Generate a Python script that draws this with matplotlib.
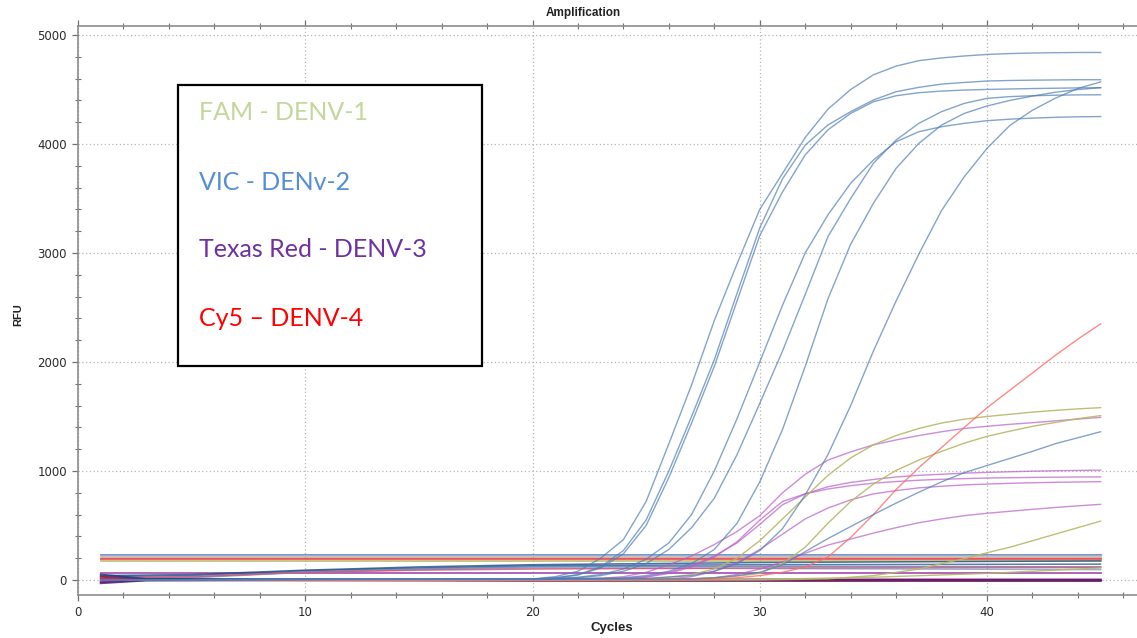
import matplotlib
matplotlib.use("Agg")
import matplotlib.pyplot as plt
from matplotlib.patches import Rectangle
from matplotlib.ticker import MultipleLocator

# ---------------- data (cycle, RFU) ----------------
# VIC (DENV-2) sigmoid curves
vic1_c = [1, 10, 20, 21, 22, 23, 24, 25, 26, 27, 28, 29, 30, 31, 32, 33, 34, 35, 36, 37, 38, 39, 40, 41, 42, 43, 44, 45]
vic1_y = [0, 5, 10, 30, 80, 200, 370, 720, 1250, 1790, 2380, 2900, 3400, 3730, 4060, 4320, 4500, 4635, 4715, 4765, 4790, 4808, 4822, 4830, 4835, 4838, 4840, 4840]
vic2_c = [1, 10, 20, 21, 22, 23, 24, 25, 26, 27, 28, 29, 30, 31, 32, 33, 34, 35, 36, 37, 38, 39, 40, 41, 42, 43, 44, 45]
vic2_y = [0, 5, 8, 20, 50, 120, 270, 550, 1000, 1500, 2020, 2630, 3230, 3680, 3990, 4175, 4297, 4404, 4480, 4520, 4550, 4565, 4578, 4583, 4586, 4588, 4590, 4590]
vic3_c = [1, 10, 20, 21, 22, 23, 24, 25, 26, 27, 28, 29, 30, 31, 32, 33, 34, 35, 36, 37, 38, 39, 40, 41, 42, 43, 44, 45]
vic3_y = [0, 5, 8, 18, 45, 110, 240, 500, 940, 1440, 1960, 2560, 3160, 3560, 3900, 4130, 4281, 4388, 4443, 4471, 4486, 4495, 4501, 4505, 4509, 4512, 4515, 4517]
vic4_c = [1, 10, 20, 22, 23, 24, 25, 26, 27, 28, 29, 30, 31, 32, 33, 34, 35, 36, 37, 38, 39, 40, 41, 42, 43, 44, 45]
vic4_y = [0, 5, 10, 25, 50, 100, 190, 340, 600, 1000, 1480, 2000, 2520, 3000, 3350, 3640, 3853, 4021, 4113, 4159, 4190, 4214, 4228, 4238, 4245, 4250, 4252]
vic5_c = [1, 10, 20, 22, 23, 24, 25, 26, 27, 28, 29, 30, 31, 32, 33, 34, 35, 36, 37, 38, 39, 40, 41, 42, 43, 44, 45]
vic5_y = [0, 5, 8, 20, 40, 80, 150, 280, 480, 750, 1150, 1620, 2100, 2620, 3150, 3500, 3823, 4037, 4190, 4297, 4373, 4419, 4435, 4443, 4448, 4451, 4452]
vic6_c = [1, 10, 20, 24, 25, 26, 27, 28, 29, 30, 31, 32, 33, 34, 35, 36, 37, 38, 39, 40, 41, 42, 43, 44, 45]
vic6_y = [0, 5, 8, 20, 40, 80, 150, 280, 520, 900, 1380, 1960, 2580, 3080, 3456, 3777, 4006, 4174, 4281, 4349, 4400, 4440, 4475, 4500, 4517]
vic7_c = [1, 10, 20, 25, 27, 28, 29, 30, 31, 32, 33, 34, 35, 36, 37, 38, 39, 40, 41, 42, 43, 44, 45]
vic7_y = [0, 5, 5, 15, 40, 80, 150, 270, 470, 780, 1150, 1600, 2100, 2560, 2990, 3390, 3700, 3960, 4170, 4310, 4420, 4510, 4570]
vic8_c = [1, 10, 20, 27, 28, 29, 30, 31, 32, 33, 34, 35, 36, 37, 38, 39, 40, 41, 42, 43, 44, 45]
vic8_y = [0, 5, 5, 10, 20, 40, 70, 140, 260, 380, 490, 600, 705, 805, 900, 985, 1050, 1115, 1180, 1250, 1305, 1360]

# Cy5 (DENV-4)
cy5_1_c = [1, 10, 20, 27, 28, 29, 30, 31, 32, 33, 34, 35, 36, 37, 38, 39, 40, 41, 42, 43, 44, 45]
cy5_1_y = [0, 0, 0, 5, 10, 20, 40, 70, 120, 210, 390, 600, 830, 1030, 1215, 1400, 1580, 1740, 1900, 2060, 2210, 2350]

# FAM (DENV-1)
fam1_c = [1, 10, 20, 25, 26, 27, 28, 29, 30, 31, 32, 33, 34, 35, 36, 37, 38, 39, 40, 41, 42, 43, 44, 45]
fam1_y = [0, 0, 0, 10, 25, 50, 100, 200, 360, 560, 760, 960, 1120, 1240, 1325, 1390, 1440, 1475, 1500, 1520, 1540, 1556, 1570, 1581]
fam2_c = [1, 20, 27, 28, 29, 30, 31, 32, 33, 34, 35, 36, 37, 38, 39, 40, 41, 42, 43, 44, 45]
fam2_y = [0, 0, 10, 20, 35, 60, 150, 300, 520, 720, 880, 1005, 1100, 1180, 1255, 1318, 1365, 1410, 1445, 1480, 1508]
fam3_c = [1, 20, 30, 33, 34, 35, 36, 37, 38, 39, 40, 41, 42, 43, 44, 45]
fam3_y = [0, 0, 0, 10, 25, 40, 70, 100, 150, 195, 250, 300, 360, 420, 480, 540]
fam4_c = [1, 25, 30, 35, 40, 45]
fam4_y = [0, 0, 5, 25, 60, 110]

# Texas Red (DENV-3)
txr1_c = [1, 10, 20, 23, 24, 25, 26, 27, 28, 29, 30, 31, 32, 33, 34, 35, 36, 37, 38, 39, 40, 41, 42, 43, 44, 45]
txr1_y = [0, 0, 5, 15, 30, 70, 140, 220, 325, 445, 590, 800, 970, 1100, 1175, 1240, 1285, 1325, 1360, 1390, 1410, 1428, 1443, 1460, 1476, 1492]
txr2_c = [1, 20, 24, 25, 26, 27, 28, 29, 30, 31, 32, 33, 34, 35, 36, 37, 38, 39, 40, 41, 42, 43, 44, 45]
txr2_y = [0, 5, 15, 30, 70, 130, 220, 340, 510, 690, 790, 855, 895, 922, 945, 960, 970, 980, 987, 993, 998, 1002, 1005, 1008]
txr3_c = [1, 20, 24, 25, 26, 27, 28, 29, 30, 31, 32, 33, 34, 35, 36, 37, 38, 39, 40, 41, 42, 43, 44, 45]
txr3_y = [0, 5, 12, 25, 60, 120, 210, 350, 550, 720, 790, 835, 865, 888, 903, 915, 924, 930, 935, 938, 941, 943, 945, 946]
txr4_c = [1, 20, 26, 27, 28, 29, 30, 31, 32, 33, 34, 35, 36, 37, 38, 39, 40, 41, 42, 43, 44, 45]
txr4_y = [0, 0, 10, 30, 80, 160, 280, 420, 560, 660, 735, 790, 820, 845, 860, 872, 880, 887, 892, 896, 899, 902]
txr5_c = [1, 20, 27, 28, 29, 30, 31, 32, 33, 34, 35, 36, 37, 38, 39, 40, 41, 42, 43, 44, 45]
txr5_y = [0, 0, 10, 20, 50, 100, 165, 245, 320, 375, 430, 480, 525, 560, 590, 612, 630, 648, 665, 680, 694]

# baseline (negative / flat) traces
flat_c = [1, 45]
flat_vic_a = [232, 232]
flat_vic_b = [216, 216]
flat_cy5_a = [200, 200]
flat_cy5_b = [188, 188]
flat_fam_a = [172, 172]
flat_txr_a = [68, 68]

drift_c = [1, 5, 10, 15, 20, 30, 45]
drift_vic_a = [30, 40, 85, 110, 130, 140, 145]
drift_vic_b = [10, 25, 75, 100, 120, 125, 120]
drift_vic_c = [-10, 20, 70, 95, 110, 105, 95]
drift_vic_d = [40, 50, 90, 120, 140, 160, 175]
drift_cy5_a = [20, 30, 70, 90, 100, 110, 115]

zero_c = [1, 3, 10, 20, 30, 45]
zero_txr_a = [-20, 0, 5, 0, -5, -5]
zero_cy5_a = [30, 5, 0, -5, 0, 0]
zero_vic_a = [50, 10, 5, -5, -8, -10]
zero_txr_b = [-5, -2, 0, 2, 4, 5]
zero_cy5_b = [10, 0, -5, -5, -5, -5]
zero_txr_c = [-30, -5, 0, 0, 2, 0]

x_ticks = [0, 10, 20, 30, 40]
y_ticks = [0, 1000, 2000, 3000, 4000, 5000]
legend_labels = ["FAM - DENV-1", "VIC - DENv-2", "Texas Red - DENV-3", "Cy5 \u2013 DENV-4"]

# ---------------- styles ----------------
C_VIC = "#4f7db4"
C_FAM = "#b7b766"
C_TXR = "#b85cc6"
C_CY5 = "#ff6a6a"
legend_colors = ["#c3d69b", "#558ed5", "#7030a0", "#ff0000"]

W, H = 1137, 638
fig = plt.figure(figsize=(W / 100, H / 100), dpi=100)
ax = fig.add_axes([78 / W, (H - 595) / H, (W - 78) / W, (595 - 26) / H])

def draw(c, y, color, alpha=0.75, lw=1.0):
    ax.plot(c, y, color=color, alpha=alpha, lw=lw, solid_joinstyle="round")

# baselines first
for y, col in [(flat_vic_a, C_VIC), (flat_vic_b, "#9ab6d6"), (flat_cy5_a, "#ff8a70"),
               (flat_cy5_b, "#e04040"), (flat_fam_a, C_FAM), (flat_txr_a, "#9a3aa8")]:
    draw(flat_c, y, col, alpha=0.85, lw=1.3)
for y, col in [(drift_vic_a, "#2f5d95"), (drift_vic_b, C_VIC), (drift_vic_c, "#7b9cc6"),
               (drift_vic_d, "#1f4f8a"), (drift_cy5_a, "#e05070")]:
    draw(drift_c, y, col, alpha=0.8, lw=1.1)
for y, col in [(zero_txr_a, "#7a1f80"), (zero_cy5_a, "#a01840"), (zero_vic_a, "#1f3f80"),
               (zero_txr_b, "#8a2a90"), (zero_cy5_b, "#c02050"), (zero_txr_c, "#5a1a70")]:
    draw(zero_c, y, col, alpha=0.85, lw=1.4)

for c, y in [(txr1_c, txr1_y), (txr2_c, txr2_y), (txr3_c, txr3_y), (txr4_c, txr4_y), (txr5_c, txr5_y)]:
    draw(c, y, C_TXR, alpha=0.7)
for c, y in [(fam1_c, fam1_y), (fam2_c, fam2_y), (fam3_c, fam3_y), (fam4_c, fam4_y)]:
    draw(c, y, C_FAM, alpha=0.9)
draw(cy5_1_c, cy5_1_y, C_CY5, alpha=0.8)
for c, y in [(vic1_c, vic1_y), (vic2_c, vic2_y), (vic3_c, vic3_y), (vic4_c, vic4_y),
             (vic5_c, vic5_y), (vic6_c, vic6_y), (vic7_c, vic7_y), (vic8_c, vic8_y)]:
    draw(c, y, C_VIC, alpha=0.7)

ax.set_xlim(0, 46.6)
ax.set_ylim(-138, 5083)
ax.set_xticks(x_ticks)
ax.set_yticks(y_ticks)
ax.xaxis.set_minor_locator(MultipleLocator(2))
ax.yaxis.set_minor_locator(MultipleLocator(200))
ax.grid(True, which="major", color="#b5b5b5", linestyle=(0, (1, 2)), linewidth=0.9)
ax.tick_params(which="both", colors="#707070", labelcolor="#2a2a2a",
               labelsize=8.5, top=True, right=False)
ax.tick_params(which="major", direction="out", length=4, width=0.9, pad=4)
ax.tick_params(which="minor", direction="inout", length=4, width=0.8)
for lab in ax.get_xticklabels() + ax.get_yticklabels():
    lab.set_family("DejaVu Sans")
for side in ["left", "bottom", "top"]:
    ax.spines[side].set_color("#8c8c8c")
    ax.spines[side].set_linewidth(1.2)
ax.spines["right"].set_visible(False)

fig.text(583 / W, 1 - 13 / H, "Amplification", ha="center", va="center",
         fontsize=8.5, fontweight="bold", family="Liberation Sans", color="#222222")
fig.text(18 / W, 1 - 315 / H, "RFU", ha="center", va="center", rotation=90,
         fontsize=8, fontweight="bold", family="Liberation Sans", color="#222222")
fig.text(612 / W, 1 - 628 / H, "Cycles", ha="center", va="center",
         fontsize=9.5, fontweight="bold", family="Liberation Sans", color="#222222")

# legend box (annotation panel)
fig.patches.append(Rectangle((178 / W, 1 - 366 / H), (482 - 178) / W, (366 - 85) / H,
                             transform=fig.transFigure, facecolor="white",
                             edgecolor="black", linewidth=1.6, zorder=5))
for lab, col, ypx in zip(legend_labels, legend_colors, [113, 183, 250, 318]):
    fig.text(199 / W, 1 - ypx / H, lab, ha="left", va="center", color=col,
             fontsize=18, family=["Lato", "DejaVu Sans"], zorder=6)

fig.savefig("out.png", dpi=100)
